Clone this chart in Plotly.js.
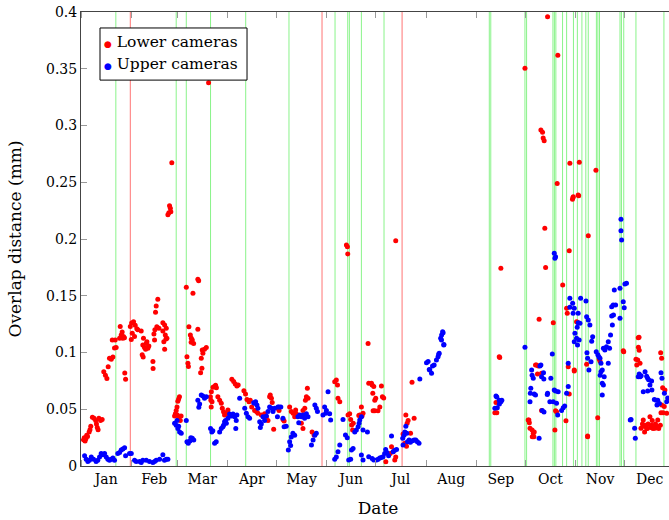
<!DOCTYPE html>
<html><head><meta charset="utf-8">
<script src="https://cdn.plot.ly/plotly-3.0.1.min.js"></script>
<style>html,body{margin:0;padding:0;overflow:hidden;background:#fff}#chart{width:675px;height:520px}</style>
</head><body><div id="chart"></div>
<script>
// Day-of-year (days since Jan 1) and overlap distance (mm)
const lowerDay = [1.5,2,2.5,3,3.5,4,5,5.5,6,7,8,9,9.5,10,10.5,11,12,13,
14,15,15.9,16.7,17.5,18.6,19.6,19.2,20.6,21,21.6,23.7,24.1,24.7,25.3,25.7,26.1,26.7,26.9,27.4,
30.3,31.1,32.3,33.3,34.3,31.5,30.9,32.9,34.9,37,38.4,38,39,40.1,41.1,40.5,41.7,37.6,38.2,39.7,44.2,44.3,44.8,45.4,45.8,46.2,47.2,46.6,47.9,45.2,50.3,51.4,52.4,51.8,52.8,50.9,51.4,52.2,50.3,
55.8,54.4,54.9,54,53.4,55.2,
57.5,58,58.5,59,59.5,60,60.5,59.2,60,61,61.5,
64.7,65.1,65.7,66,66.3,67.2,67.8,68.4,68.8,69.2,67.7,71.8,72.3,71.8,73.9,74.5,74.9,73.5,74.3,75.9,77,
78.4,
79.8,80.1,80.5,81.1,82,82.7,83.2,84.1,85.2,86.2,86.8,87.6,88.2,89.3,90.3,90.9,79.5,80,
92.7,93.8,94.8,95.8,96.6,100.1,101.1,102,103.2,104,104.9,106.7,107.7,108.7,110.8,112.8,113.9,114.9,115.9,116.3,117,118.4,117.5,
121,121.7,124.1,124.8,128.2,129.2,130.3,131.3,132.3,131.9,135.4,136.4,137.5,137.9,138.5,139.1,139.5,142,143.2,136.4,
155.9,156.9,157.6,157.9,159,163.1,163.7,163.9,164.1,165.1,165.7,166.3,167.3,166.9,171.3,172.3,172.7,173.3,172.1,170.7,176.4,176.8,178.5,178.9,179.9,179.3,180.5,181.1,182.5,183.6,184.6,185.2,186,180.5,179.5,
187.3,190,190.8,191.8,192.8,193.4,193.4,197.9,199,199.6,200,200.4,201,202,202.5,203.4,204.7,
254.3,255.5,255,257,257.3,258,
272.8,274.8,275.2,275.5,275.9,277.2,277.3,277.9,278.3,278.5,279.3,279.9,281.5,280.5,281,282.6,283.6,284,284.6,283,283,285,285.5,286.7,290.2,291.2,291.6,292.2,292.6,293,296,298,298.4,298.8,299.4,300,300,300.4,302,302.3,302.5,303.1,303.1,304.5,305.1,305.5,305.8,306.2,310.7,311.3,311.3,311.7,316.4,317.5,318.4,318.9,333.2,333.5,
341,341.5,342.1,342.4,342.5,342.9,343,343.5,344.1,345.5,346,346.3,347,347.6,348.5,349.6,350,350.6,351.5,352.7,353,353.5,354.4,355,356,356.4,356.2,356.8,356.8,357.4,358.4,358.8,359.9,357.7,345,348,351];
const lowerVal = [.023,.025,.022,.024,.027,.026,.030,.032,.035,.043,.042,.040,.037,.034,.032,.042,.040,.041,
.083,.080,.077,.0875,.095,.094,.096,.111,.104,.111,.1045,.1125,.123,.1155,.118,.1125,.114,.113,.082,.0765,
.123,.126,.127,.124,.121,.117,.1115,.114,.12,.119,.1125,.1065,.1045,.108,.1037,.1095,.1057,.098,.096,.1028,.092,.086,.1163,.12,.1354,.141,.1469,.1227,.1213,.111,.1263,.1242,.1213,.1154,.1125,.1095,.1028,.112,.119,
.2672,.2293,.227,.2232,.2214,.224,
.044,.046,.049,.052,.057,.059,.061,.045,.042,.040,.044,
.1574,.0963,.0905,.0876,.1227,.1154,.1125,.111,.1521,.108,.109,.1645,.1633,.1204,.0949,.1022,.0993,.0822,.0861,.1028,.1045,
.3377,
.058,.0655,.0567,.0693,.070,.0711,.069,.061,.058,.0552,.0508,.0479,.045,.0464,.0493,.045,.061,.052,
.0764,.0744,.0722,.0705,.0714,.0663,.0634,.0587,.0567,.058,.052,.049,.048,.0464,.045,.046,.0435,.040,.061,.0626,.0596,.0323,.056,
.0508,.049,.041,.0396,.052,.048,.0464,.0435,.046,.0493,.0376,.033,.0508,.058,.061,.0684,.0596,.030,.0273,.049,
.0743,.0758,.0714,.0596,.0567,.1947,.1932,.1868,.045,.046,.041,.0362,.0376,.0318,.045,.052,.044,.0464,.044,.0445,.108,.0729,.0729,.0714,.070,.064,.058,.0596,.0487,.052,.0705,.061,.060,.0487,.0487,
.0038,.011,.017,.0126,.0053,.008,.1985,.0282,.020,.045,.0174,.0376,.040,.0214,.0288,.0737,.042,
.047,.047,.056,.0963,.0955,.1742,
.3504,.0405,.0405,.038,.0332,.0318,.0258,.0288,.0258,.030,.089,.089,.1292,.081,.088,.296,.294,.289,.2866,.0817,.049,.2094,.175,.3959,.1263,.0317,.0487,.0479,.249,.3618,.1594,.0399,.1389,.1345,.0875,.1897,.0634,.2667,.235,.2365,.2373,.0837,.0846,.1271,.1266,.2388,.2381,.2676,.0896,.0264,.0258,.2029,.2605,.0426,.0943,.0925,.1016,.1007,
.094,.089,.0934,.113,.1046,.1134,.102,.0905,.0332,.0405,.035,.030,.036,.0332,.037,.0435,.034,.036,.033,.0332,.037,.035,.0405,.033,.036,.047,.0998,.095,.0538,.069,.0525,.067,.0464,.047,.037,.033,.040];

const upperDay = [2.2,3.2,4.2,5.2,6.3,7.7,9.3,10.3,11.4,12.4,13.4,14.5,15.5,16.5,17.5,18.6,19.6,20.6,22.6,23.7,24.7,25.7,26.8,27.4,29.8,30.9,32.9,33.9,36,37,38,40.1,42.1,44.2,45.2,46.2,48.3,50.3,51.3,52.4,53.4,
57.5,58.5,59,59.5,60.6,61.6,60,64.7,65.1,65.9,66.9,67.5,68.4,69.3,71.8,72.4,72.9,73.9,74.9,75.9,77,79.6,80.4,81,82.1,83.1,85.2,86.2,87.2,87.6,88.2,88.8,89.3,90.3,91.3,
92.4,93.4,94.4,95.4,95.1,95.8,97.5,100.6,101.6,102.6,103.6,106.1,106.7,107.3,108.1,108.7,109.8,110.2,110.8,111.8,112.8,113.9,114.9,115.9,117,118,119,
120.7,121,121.7,122.8,124.1,124.8,126.1,127.4,128.2,128.8,129.2,130.2,131.3,133.3,133.8,134.4,135.4,136.4,137.4,138.5,139.5,141.6,142.6,143.7,144.6,143.7,144.6,145.3,148.7,149.7,150.4,150.8,151.8,152.8,153.4,
155.9,156.9,157.9,159,161,162.5,163.6,164.5,165.7,166.2,167.2,168.2,169.2,170.3,170.9,171.3,172.3,173.3,176,172.3,173.3,176.8,178.9,179.9,
181.6,182.6,183.6,184.6,185.6,186.6,187.2,188,189,190.8,191.8,192.8,193.9,197.7,197.9,198.5,199,199.6,200.2,200.6,201.6,202.4,203.7,204.7,205.7,206.7,207.7,
208.2,212.3,213.3,214,214.3,215.4,216,217,218.4,219.4,220.1,219.8,221,221.5,221.6,222.2,222.5,222.9,223,
254.3,255,255.5,255.8,257,257.1,258,258.6,
272.8,276.9,277.2,277.9,276.4,276.1,275.9,278.5,279.3,281.5,282,282.6,283,284.4,284.2,283.4,284.5,286.7,286.5,288.7,289.6,290.8,291.6,291.2,288.1,290.8,290.2,292.2,291.6,293.2,295.3,296.3,297.2,292.9,298.4,299.4,299.4,300.4,302.1,303.1,302.4,300.4,305.5,307,310.3,310.7,311.7,312.7,305.5,304.9,303.5,304.5,303.1,305.1,306.1,306.6,310.9,311.3,313.4,312.1,314.4,313.8,316.6,317.6,318.2,318.9,319.5,319.5,319,320.3,321.5,320.3,321,320.3,321,321.9,322.9,324,324.8,324,325.4,326.5,326.1,327.2,326.1,327,327.7,328.5,331.2,331.8,331.8,332.2,331.2,333.8,334.2,335.2,333.2,
338,337.5,340.2,340.6,342.4,343,343.6,344.2,345.5,346.6,347.6,348.2,348.8,349.6,350.6,348.2,350.8,352.3,353.4,354.4,353.9,355.4,356.4,357,358.5,359.9,360.5];
const upperVal = [.009,.006,.004,.005,.008,.006,.004,.005,.008,.011,.010,.011,.008,.006,.005,.006,.007,.005,.011,.012,.014,.015,.016,.009,.011,.011,.005,.004,.004,.003,.005,.005,.004,.003,.004,.005,.006,.010,.005,.006,.006,
.0376,.036,.040,.033,.030,.0288,.035,.040,.0214,.020,.022,.025,.0244,.023,.058,.0517,.0546,.0626,.0617,.0596,.061,.033,.030,.031,.020,.0214,.030,.033,.0346,.036,.039,.040,.0376,.042,.0458,
.044,.0458,.0435,.040,.033,.045,.0596,.0508,.0464,.0435,.042,.0558,.0552,.0567,.0537,.0508,.039,.034,.037,.0435,.040,.044,.048,.052,.0508,.048,.0508,
.0435,.052,.052,.052,.042,.0346,.035,.014,.0214,.018,.0256,.0288,.027,.0435,.0382,.045,.0435,.045,.042,.046,.0435,.0185,.023,.027,.0288,.0537,.0508,.048,.045,.052,.0464,.049,.0655,.046,.0405,
.0059,.008,.0126,.0185,.041,.0273,.025,.0053,.0059,.014,.0155,.030,.0318,.0346,.0376,.0405,.0435,.0318,.030,.0097,.0053,.0082,.0067,.0053,
.0053,.006,.007,.0075,.0082,.011,.0146,.012,.009,.0264,.0126,.0138,.0146,.0244,.0185,.027,.030,.035,.0288,.0214,.023,.021,.0223,.023,.023,.0214,.020,
.0767,.091,.092,.085,.0846,.0817,.088,.089,.0934,.0963,.0993,.0985,.1125,.111,.1154,.1183,.1175,.1066,.107,
.0508,.0617,.0608,.0514,.058,.0546,.0567,.058,
.1046,.0846,.080,.0773,.0684,.064,.0567,.0634,.0625,.0244,.0881,.089,.0787,.0766,.0822,.049,.0475,.064,.063,.0773,.0987,.1874,.1844,.183,.0567,.067,.0567,.0552,.066,.0655,.049,.0514,.0528,.045,.064,.070,.0905,.1398,.1433,.1389,.1345,.1477,.1345,.1477,.1454,.1315,.1286,.1242,.1263,.1222,.1169,.1125,.1095,.1066,.111,.1257,.0998,.0949,.0919,.0846,.1139,.110,.1007,.098,.0963,.0949,.0905,.0831,.080,.0846,.0787,.0729,.0714,.0626,.1037,.1022,.105,.1095,.1037,.0905,.1154,.1242,.1322,.133,.1403,.1418,.1551,.1418,.1565,.2073,.2173,.1991,.1301,.1395,.1604,.161,.1448,
.041,.0405,.0332,.0244,.0787,.081,.0787,.0795,.0655,.0831,.079,.0773,.076,.0714,.075,.066,.067,.0587,.058,.058,.0538,.055,.0822,.0773,.064,.0567,.06];

// Marker lines (days since Jan 1)
const greenDays = [21.4,58.5,64.7,79.6,101.2,127.8,156.1,163.9,164.9,172.3,186.2,250.9,251.8,272.8,273.8,290.0,290.9,291.8,295.9,298.4,302.6,305.0,307.8,310.2,311.7,316.7,317.6,318.6,331.2,332.1,333.5,341.0,358.2];
const redDays = [30.3,148.1,197.3];

const seriesNames = ['Lower cameras','Upper cameras'];
const seriesColors = ['#ff0000','#0000ff'];

const yearStart = Date.UTC(2015,0,1);
function toDate(d){ return new Date(yearStart + d*864e5).toISOString().replace('T',' ').slice(0,19); }

const shapes = [];
greenDays.forEach(d => shapes.push({type:'line', xref:'x', yref:'paper', x0:toDate(d), x1:toDate(d), y0:0, y1:1, layer:'below', line:{color:'rgba(60,235,60,0.6)', width:1}}));
redDays.forEach(d => shapes.push({type:'line', xref:'x', yref:'paper', x0:toDate(d), x1:toDate(d), y0:0, y1:1, layer:'below', line:{color:'rgba(255,70,70,0.75)', width:1}}));
// legend box
shapes.push({type:'rect', xref:'paper', yref:'paper', x0:0.032, x1:0.2795, y0:0.850, y1:0.9648, line:{color:'#000', width:1}, fillcolor:'#fff', layer:'above'});

const annotations = seriesNames.map((n,i) => ({
  xref:'paper', yref:'paper', x:0.035, y:[0.934,0.886][i], xanchor:'left', yanchor:'middle', showarrow:false,
  text:'<span style="color:'+seriesColors[i]+';font-size:9px">●</span> '+n,
  font:{family:'DejaVu Serif', size:15.5, color:'#000'}
}));

const traces = [
  {type:'scatter', mode:'markers', name:seriesNames[0], x:lowerDay.map(toDate), y:lowerVal, marker:{color:seriesColors[0], size:5}},
  {type:'scatter', mode:'markers', name:seriesNames[1], x:upperDay.map(toDate), y:upperVal, marker:{color:seriesColors[1], size:5}}
];

const layout = {
  width:675, height:520,
  margin:{l:81, r:0, t:12, b:54},
  paper_bgcolor:'#fff', plot_bgcolor:'#fff',
  font:{family:'DejaVu Serif', size:14, color:'#000'},
  showlegend:false,
  xaxis:{type:'date', range:['2015-01-01','2016-01-01'], tick0:'2015-01-01', dtick:'M1', ticklabelmode:'period', tickformat:'%b',
    ticks:'inside', ticklen:6, tickcolor:'#999', showline:true, linecolor:'#444', linewidth:1, mirror:'ticks', showgrid:false, zeroline:false,
    title:{text:'Date', standoff:16}},
  yaxis:{range:[0,0.4], dtick:0.05, ticks:'inside', ticklen:6, tickcolor:'#999', showline:true, linecolor:'#444', linewidth:1, mirror:'ticks', showgrid:false, zeroline:false,
    title:{text:'Overlap distance (mm)', standoff:20}},
  shapes:shapes,
  annotations:annotations
};
Plotly.newPlot('chart', traces, layout, {displayModeBar:false, staticPlot:true});
</script></body></html>
